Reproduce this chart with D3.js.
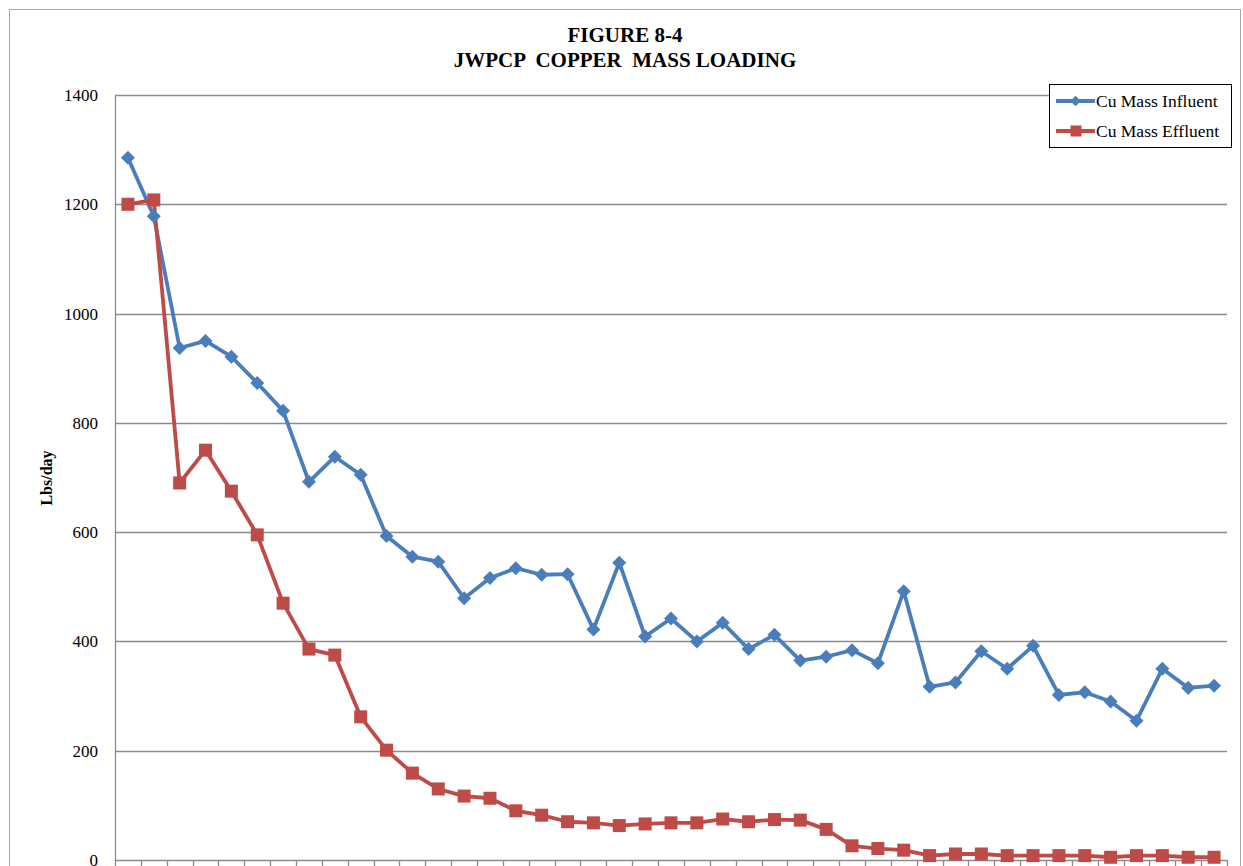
<!DOCTYPE html>
<html>
<head>
<meta charset="utf-8">
<script src="https://cdn.jsdelivr.net/npm/d3@7"></script>
<style>
  body { margin: 0; background: #fff; }
  text { font-family: "Liberation Serif", "Times New Roman", serif; }
</style>
</head>
<body>
<div id="the_chart"></div>
<script>
// data (43 sampling periods, no x labels shown)
var influent = [1285,1178,937,950,921,873,822,692,738,705,593,555,546,479,516,534,522,523,422,544,
                409,442,400,434,386,412,365,372,384,360,492,317,325,382,350,392,302,307,290,255,
                350,315,319];
var effluent = [1200,1208,690,750,675,595,470,386,375,262,201,159,130,117,113,90,82,70,68,63,
                66,68,68,75,70,74,73,56,26,21,18,8,11,11,8,8,8,8,5,8,
                8,5,5];
var yTicks = [0,200,400,600,800,1000,1200,1400];
var seriesNames = ["Cu Mass Influent","Cu Mass Effluent"];
var seriesColors = ["#4a7ebb","#be4b48"];

var w = 1243, h = 866;
var padL = 115, padR = 1227, padT = 95, padB = 860;

var canvas = d3.select("#the_chart").append("svg")
  .attr("width", w).attr("height", h);

// outer chart border
canvas.append("rect")
  .attr("x", 9.5).attr("y", 9.5)
  .attr("width", 1231).attr("height", 880)
  .style("fill", "none").style("stroke", "#a6a6a6").style("stroke-width", "1px");

var idx = d3.range(influent.length);
var xscale = d3.scaleBand().domain(idx).range([padL, padR]);
var yscale = d3.scaleLinear().domain([0,1400]).range([padB, padT]);

// gridlines
canvas.append("g").selectAll("line")
  .data(yTicks.slice(1))
  .enter().append("line")
  .attr("x1", padL).attr("x2", padR)
  .attr("y1", function(d){ return Math.round(yscale(d)) + 0.5; })
  .attr("y2", function(d){ return Math.round(yscale(d)) + 0.5; })
  .style("stroke", "#8c8c8c").style("stroke-width", "1.3px");

// y axis
var yAxis = d3.axisLeft(yscale).tickValues(yTicks).tickFormat(d3.format("d"))
  .tickSize(0).tickPadding(17);
var gY = canvas.append("g").attr("transform", "translate(" + padL + ",0)").call(yAxis);
gY.select(".domain").style("stroke", "#8c8c8c").style("stroke-width", "1.3px");
gY.selectAll("text").style("font-size", "17px").style("fill", "#000")
  .style("font-family", "'Liberation Serif', serif");

// x axis: ticks between categories, no labels
var xb = idx.map(function(i){ return xscale(i); }).concat([padR]);
canvas.append("line")
  .attr("x1", padL).attr("x2", padR).attr("y1", padB + 0.5).attr("y2", padB + 0.5)
  .style("stroke", "#8c8c8c").style("stroke-width", "1.3px");
canvas.append("g").selectAll("line")
  .data(xb)
  .enter().append("line")
  .attr("x1", function(d){ return Math.round(d) + 0.5; })
  .attr("x2", function(d){ return Math.round(d) + 0.5; })
  .attr("y1", padB).attr("y2", padB + 7)
  .style("stroke", "#8c8c8c").style("stroke-width", "1.3px");

// series
var lineGen = d3.line()
  .x(function(d,i){ return xscale(i) + xscale.bandwidth()/2; })
  .y(function(d){ return yscale(d); });

var allSeries = [influent, effluent];
allSeries.forEach(function(s, k){
  canvas.append("path")
    .datum(s)
    .attr("d", lineGen)
    .style("fill", "none")
    .style("stroke", seriesColors[k])
    .style("stroke-width", "3.8px")
    .style("stroke-linejoin", "round");
});

// markers
canvas.append("g").selectAll("path")
  .data(influent)
  .enter().append("path")
  .attr("d", d3.symbol().type(d3.symbolDiamond2).size(125))
  .attr("transform", function(d,i){ return "translate(" + (xscale(i) + xscale.bandwidth()/2) + "," + yscale(d) + ")"; })
  .style("fill", seriesColors[0]);

canvas.append("g").selectAll("rect")
  .data(effluent)
  .enter().append("rect")
  .attr("x", function(d,i){ return xscale(i) + xscale.bandwidth()/2 - 6.5; })
  .attr("y", function(d){ return yscale(d) - 6.5; })
  .attr("width", 13).attr("height", 13)
  .style("fill", seriesColors[1]);

// title
canvas.append("text")
  .attr("x", 625).attr("y", 42)
  .attr("text-anchor", "middle")
  .style("font-size", "21px").style("font-weight", "bold")
  .text("FIGURE 8-4");
canvas.append("text")
  .attr("x", 625).attr("y", 67)
  .attr("text-anchor", "middle")
  .style("font-size", "21px").style("font-weight", "bold")
  .style("white-space", "pre")
  .attr("xml:space", "preserve")
  .text("JWPCP  COPPER  MASS LOADING");

// y label
canvas.append("text")
  .attr("transform", "translate(52,478) rotate(-90)")
  .attr("text-anchor", "middle")
  .style("font-size", "16px").style("font-weight", "bold")
  .text("Lbs/day");

// legend
var lg = canvas.append("g").attr("transform", "translate(1049,84)");
lg.append("rect")
  .attr("x", 0.5).attr("y", 0.5).attr("width", 182).attr("height", 63)
  .style("fill", "#fff").style("stroke", "#000").style("stroke-width", "1px");
seriesNames.forEach(function(name, k){
  var yy = 17 + k * 30;
  lg.append("line")
    .attr("x1", 7).attr("x2", 46).attr("y1", yy).attr("y2", yy)
    .style("stroke", seriesColors[k]).style("stroke-width", "3.8px");
  if (k === 0) {
    lg.append("path")
      .attr("d", d3.symbol().type(d3.symbolDiamond2).size(70))
      .attr("transform", "translate(26.5," + yy + ")")
      .style("fill", seriesColors[k]);
  } else {
    lg.append("rect")
      .attr("x", 21.5).attr("y", yy - 5.5).attr("width", 11).attr("height", 11)
      .style("fill", seriesColors[k]);
  }
  lg.append("text")
    .attr("x", 47).attr("y", yy + 6)
    .style("font-size", "17.5px")
    .text(name);
});
</script>
</body>
</html>
